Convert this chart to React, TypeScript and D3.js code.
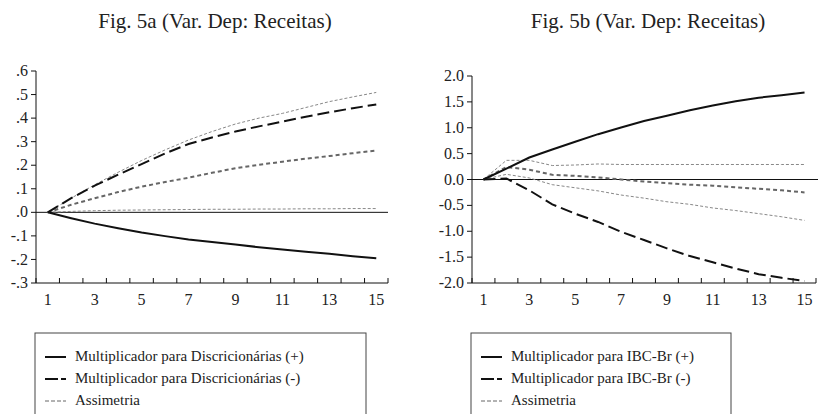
import React from "react";
import * as d3 from "d3";

const periods = [1, 2, 3, 4, 5, 6, 7, 8, 9, 10, 11, 12, 13, 14, 15];
const xTickLabels = [1, 3, 5, 7, 9, 11, 13, 15];

// Fig 5a
const aPos = [0, -0.025, -0.048, -0.068, -0.086, -0.101, -0.115, -0.126, -0.137, -0.148, -0.158, -0.167, -0.176, -0.186, -0.195];
const aNeg = [0, 0.06, 0.113, 0.16, 0.205, 0.25, 0.29, 0.318, 0.343, 0.365, 0.385, 0.406, 0.425, 0.442, 0.458];
const aAsym = [0, 0.032, 0.06, 0.086, 0.109, 0.129, 0.147, 0.168, 0.187, 0.202, 0.215, 0.228, 0.239, 0.251, 0.262];
const aUpper = [0, 0.06, 0.117, 0.17, 0.22, 0.265, 0.307, 0.343, 0.375, 0.4, 0.42, 0.445, 0.47, 0.49, 0.509];
const aLower = [0, 0.004, 0.007, 0.009, 0.01, 0.011, 0.012, 0.013, 0.013, 0.014, 0.014, 0.015, 0.015, 0.016, 0.016];
const aYTicks = [0.6, 0.5, 0.4, 0.3, 0.2, 0.1, 0, -0.1, -0.2, -0.3];
const aYLabels = [".6", ".5", ".4", ".3", ".2", ".1", ".0", "-.1", "-.2", "-.3"];

// Fig 5b
const bPos = [0, 0.21, 0.425, 0.58, 0.73, 0.876, 1.005, 1.13, 1.23, 1.34, 1.43, 1.51, 1.58, 1.63, 1.68];
const bNeg = [0, 0.02, -0.21, -0.48, -0.66, -0.82, -1.01, -1.17, -1.33, -1.48, -1.6, -1.72, -1.83, -1.9, -1.96];
const bAsym = [0, 0.24, 0.19, 0.09, 0.07, 0.04, 0.0, -0.04, -0.07, -0.1, -0.12, -0.15, -0.18, -0.21, -0.25];
const bUpper = [0, 0.37, 0.37, 0.27, 0.28, 0.3, 0.29, 0.29, 0.29, 0.29, 0.29, 0.29, 0.29, 0.29, 0.29];
const bLower = [0, 0.1, 0.03, -0.1, -0.16, -0.22, -0.3, -0.36, -0.43, -0.48, -0.55, -0.6, -0.66, -0.72, -0.79];
const bYTicks = [2, 1.5, 1, 0.5, 0, -0.5, -1, -1.5, -2];
const bYLabels = ["2.0", "1.5", "1.0", "0.5", "0.0", "-0.5", "-1.0", "-1.5", "-2.0"];

const legendA = ["Multiplicador para Discricionárias (+)", "Multiplicador para Discricionárias (-)", "Assimetria"];
const legendB = ["Multiplicador para IBC-Br (+)", "Multiplicador para IBC-Br (-)", "Assimetria"];

const FONT = "Liberation Serif, Times New Roman, serif";

const styles = [
  { stroke: "#111", width: 2, dash: "none" },
  { stroke: "#111", width: 2, dash: "12,5" },
  { stroke: "#666", width: 2, dash: "4,3" },
  { stroke: "#888", width: 1, dash: "3,2" },
];

type PanelProps = {
  title: string;
  x0: number;
  x1: number;
  zeroEnd: number;
  yDomain: [number, number];
  yTicks: number[];
  yLabels: string[];
  series: number[][];
  legend: string[];
  legendBox: [number, number];
  titleX: number;
};

function Panel(p: PanelProps) {
  const top = p.yDomain[1] === 2 ? 76 : 71;
  const bottom = 283;
  const x = d3.scaleLinear().domain([0.5, 15.5]).range([p.x0, p.x1]);
  const y = d3.scaleLinear().domain(p.yDomain).range([bottom, top]);
  const line = d3
    .line<number>()
    .x((_, i) => x(periods[i]))
    .y((d) => y(d));
  const boundaries = d3.range(0.5, 15.51, 1);
  const order = [3, 4, 2, 1, 0];
  const seriesStyle = [0, 1, 2, 3, 3];
  const [lx0, lx1] = p.legendBox;
  return (
    <g>
      <text x={p.titleX} y={28} textAnchor="middle" fontFamily={FONT} fontSize={21} fill="#222">
        {p.title}
      </text>
      <line x1={p.x0} x2={p.zeroEnd} y1={y(0)} y2={y(0)} stroke="#111" strokeWidth={1} />
      {order.map((si) => {
        const st = styles[seriesStyle[si]];
        return (
          <path
            key={si}
            d={line(p.series[si]) || ""}
            fill="none"
            stroke={st.stroke}
            strokeWidth={st.width}
            strokeDasharray={st.dash}
          />
        );
      })}
      <line x1={p.x0} x2={p.x0} y1={top} y2={bottom} stroke="#111" strokeWidth={1} />
      {p.yTicks.map((t, i) => (
        <g key={t}>
          <line x1={p.x0 - 5} x2={p.x0} y1={y(t)} y2={y(t)} stroke="#111" />
          <text
            x={p.x0 - 8}
            y={y(t)}
            dy="0.32em"
            textAnchor="end"
            fontFamily={FONT}
            fontSize={16}
            fill="#222"
          >
            {p.yLabels[i]}
          </text>
        </g>
      ))}
      <line x1={p.x0} x2={p.x1} y1={bottom} y2={bottom} stroke="#111" strokeWidth={1} />
      {boundaries.map((b) => (
        <line key={b} x1={x(b)} x2={x(b)} y1={bottom} y2={bottom - 5} stroke="#111" />
      ))}
      {xTickLabels.map((t) => (
        <text key={t} x={x(t)} y={305} textAnchor="middle" fontFamily={FONT} fontSize={16} fill="#222">
          {t}
        </text>
      ))}
      <rect x={lx0} y={333} width={lx1 - lx0} height={100} fill="none" stroke="#444" strokeWidth={1} />
      {p.legend.map((l, i) => {
        const ly = 357 + i * 22;
        const sx = lx0 + 10;
        return (
          <g key={l}>
            {i === 1 ? (
              <g>
                <line x1={sx} x2={sx + 13} y1={ly} y2={ly} stroke="#111" strokeWidth={2} />
                <line x1={sx + 16} x2={sx + 21} y1={ly} y2={ly} stroke="#111" strokeWidth={2} />
              </g>
            ) : (
              <line
                x1={sx}
                x2={sx + 21}
                y1={ly}
                y2={ly}
                stroke={i === 2 ? "#666" : "#111"}
                strokeWidth={i === 2 ? 1 : 2}
                strokeDasharray={i === 2 ? "4,2" : "none"}
              />
            )}
            <text x={lx0 + 40} y={ly + 4} fontFamily={FONT} fontSize={15} fill="#222">
              {l}
            </text>
          </g>
        );
      })}
    </g>
  );
}

export default function App() {
  return (
    <svg width={818} height={414} style={{ position: "absolute", left: 0, top: 0, background: "#fff" }}>
      <Panel
        title="Fig. 5a (Var. Dep: Receitas)"
        titleX={215}
        x0={36}
        x1={388}
        zeroEnd={388}
        yDomain={[-0.3, 0.6]}
        yTicks={aYTicks}
        yLabels={aYLabels}
        series={[aPos, aNeg, aAsym, aUpper, aLower]}
        legend={legendA}
        legendBox={[35, 366]}
      />
      <Panel
        title="Fig. 5b (Var. Dep: Receitas)"
        titleX={648}
        x0={472}
        x1={816}
        zeroEnd={818}
        yDomain={[-2, 2]}
        yTicks={bYTicks}
        yLabels={bYLabels}
        series={[bPos, bNeg, bAsym, bUpper, bLower]}
        legend={legendB}
        legendBox={[471, 731]}
      />
    </svg>
  );
}
